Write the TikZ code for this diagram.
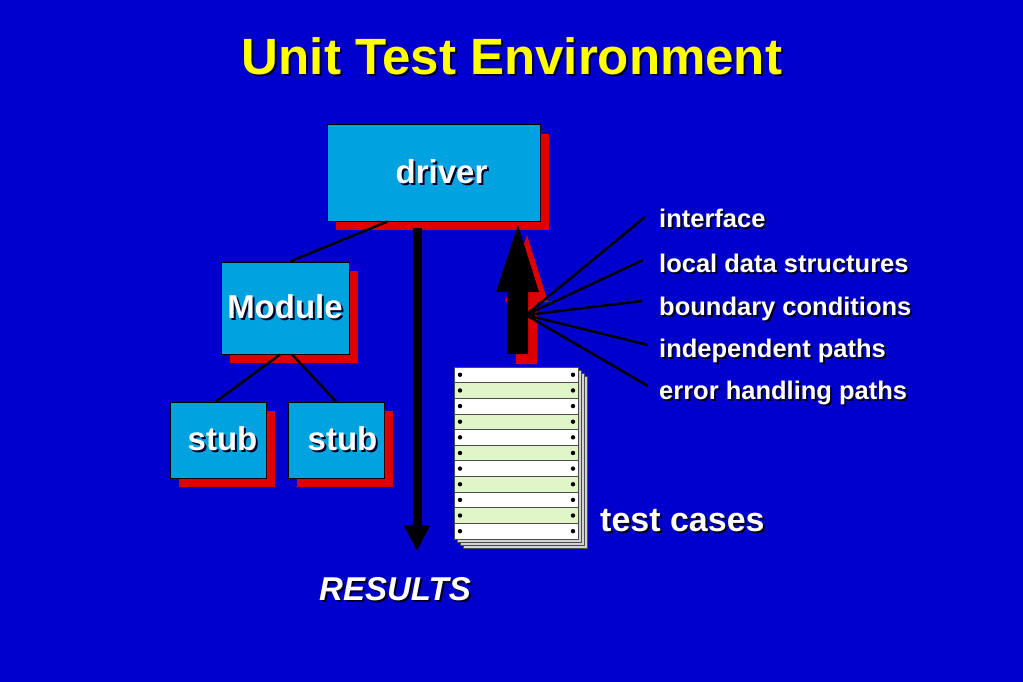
\documentclass[tikz,border=0pt]{standalone}
\usepackage{fontspec}
\setmainfont{Liberation Sans}
\usetikzlibrary{arrows.meta,shadows}
\definecolor{BackClr}{RGB}{0,0,204}
\definecolor{BoxClr}{RGB}{0,163,224}
\definecolor{ShadowClr}{RGB}{222,0,0}
\definecolor{TitleClr}{RGB}{255,255,0}
\definecolor{SheetClr}{RGB}{224,246,200}
\newcommand{\ShTxt}[1]{\makebox[0pt][l]{\hspace{2pt}\raisebox{-2pt}{\color{black!85!blue}#1}}#1}

\begin{document}
\begin{tikzpicture}[x=1pt,y=-1pt,
  unitbox/.style={draw=black,line width=1pt,fill=BoxClr,inner sep=0pt,text=white,
    font=\fontsize{33}{38}\selectfont\bfseries,
    drop shadow={shadow xshift=9pt,shadow yshift=-9pt,fill=ShadowClr,opacity=1}},
  lbl/.style={anchor=west,inner sep=0pt,text=white,font=\fontsize{25.5}{30}\selectfont\bfseries},
  wire/.style={line width=2.5pt,black}]

\fill[BackClr] (0,0) rectangle (1023,682);

\node[text=TitleClr,font=\fontsize{51}{60}\selectfont\bfseries] (title) at (512,57) {\ShTxt{Unit Test Environment}};

\node[unitbox,minimum width=213pt,minimum height=96pt] (driver) at (433.5,173) {\hspace*{16pt}\ShTxt{driver}};
\node[unitbox,minimum width=128pt,minimum height=92pt] (module) at (285,308) {\ShTxt{Module}};
\node[unitbox,minimum width=96pt,minimum height=76pt] (stubA) at (218,440) {\hspace*{9pt}\ShTxt{stub}};
\node[unitbox,minimum width=96pt,minimum height=76pt] (stubB) at (336,440) {\hspace*{13pt}\ShTxt{stub}};

\draw[wire] ([xshift=-46pt]driver.south) -- ([xshift=5pt]module.north);
\draw[wire] ([xshift=-5pt]module.south) -- ([xshift=-2pt]stubA.north);
\draw[wire] ([xshift=7pt]module.south) -- (stubB.north);

\node[text=white,font=\fontsize{33}{38}\selectfont\bfseries\itshape] (results) at (395,590) {\ShTxt{RESULTS}};
\coordinate (resend) at (417,551);
\draw[line width=9pt,-{Triangle[width=25pt,length=26pt]}] ([xshift=-16.5pt,yshift=-6pt]driver.south) -- (resend);

\foreach \k in {3,2,1}
  \filldraw[fill=gray!35,draw=gray!60!black,line width=.6pt,shift={(3*\k,3*\k)}] (454,367) rectangle (578,539);
\fill[white] (454,367) rectangle (578,539);
\foreach \r in {1,3,5,7,9}
  \fill[SheetClr] (454,{367+15.636*\r}) rectangle (578,{367+15.636*(\r+1)});
\foreach \r in {1,...,10}
  \draw[black!70,line width=.8pt] (454,{367+15.636*\r}) -- (578,{367+15.636*\r});
\foreach \r in {0,...,10}
  \fill (460,{374.8+15.636*\r}) circle (2.2pt) (573,{374.8+15.636*\r}) circle (2.2pt);
\draw[gray!60!black,line width=.6pt] (454,367) rectangle (578,539);
\node[text=white,font=\fontsize{34}{40}\selectfont\bfseries,anchor=west,inner sep=0pt] (cases) at (600,522) {\ShTxt{test cases}};

\foreach \sx/\sy/\c in {9/10/ShadowClr,0/0/black}
  \fill[\c,shift={(\sx,\sy)}] (507,354) -- (507,292) -- (496,292) -- (518,225) -- (539,292) -- (528,292) -- (528,354) -- cycle;

\coordinate (hub) at (526,315);
\node[lbl] (iface) at (659,219) {\ShTxt{interface}};
\node[lbl] (local) at (659,264) {\ShTxt{local data structures}};
\node[lbl] (bound) at (659,310) {\ShTxt{boundary conditions}};
\node[lbl] (indep) at (659,352) {\ShTxt{independent paths}};
\node[lbl] (error) at (659,394) {\ShTxt{error handling paths}};
\coordinate (eA) at (645,217);
\coordinate (eB) at (643,260);
\coordinate (eC) at (642,301);
\coordinate (eD) at (648,345);
\coordinate (eE) at (648,386);
\draw[wire] (hub) -- (eA) (hub) -- (eB) (hub) -- (eC) (hub) -- (eD) (hub) -- (eE);

\end{tikzpicture}
\end{document}
